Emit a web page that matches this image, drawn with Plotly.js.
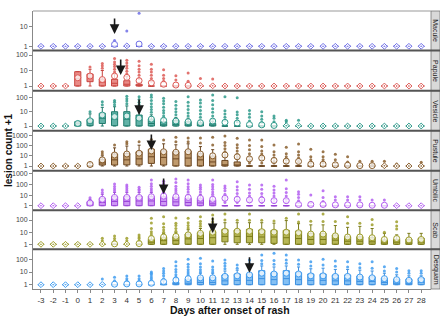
<!DOCTYPE html>
<html><head><meta charset="utf-8">
<script src="https://cdn.plot.ly/plotly-3.0.1.min.js"></script>
<style>html,body{margin:0;padding:0;background:#fff}#chart{width:440px;height:316px}</style>
</head><body><div id="chart"></div>
<script>
// ---------------- DATA (lesion count + 1) ----------------
const days = [-3,-2,-1,0,1,2,3,4,5,6,7,8,9,10,11,12,13,14,15,16,17,18,19,20,21,22,23,24,25,26,27,28];
const facetNames = ['Macule','Papule','Vesicle','Pustule','Umbilic','Scab','Desquam'];
const ONES = [1,1,1,1,1,1,1,1, 1,1,1,1,1,1,1,1, 1,1,1,1,1,1,1,1, 1,1,1,1,1,1,1,1];

// Macule
const maculeMean = [1,1,1,1,1,1,1.25,1.05, 1.3,1,1,1,1,1,1,1, 1,1,1,1,1,1,1,1, 1,1,1,1,1,1,1,1];
const maculeOutliers = [[3,[2]],[4,[6]],[5,[48]]];

// Papule
const papuleQ1  = [1,1,1,1,1.9,1,1,1, 1,1,1,1,1,1,1,1, 1,1,1,1,1,1,1,1, 1,1,1,1,1,1,1,1];
const papuleMed = [1,1,1,3,3.5,1.8,1.5,1.3, 1,1,1,1,1,1,1,1, 1,1,1,1,1,1,1,1, 1,1,1,1,1,1,1,1];
const papuleQ3  = [1,1,1,8.4,5.9,2.8,2.7,2.2, 1.3,1,1,1,1,1,1,1, 1,1,1,1,1,1,1,1, 1,1,1,1,1,1,1,1];
const papuleHi  = [1,1,1,8.4,12,10,6,4, 1.7,1,1,1,1,1,1,1, 1,1,1,1,1,1,1,1, 1,1,1,1,1,1,1,1];
const papuleMean= [1,1,1,3.4,4.4,2.6,4.4,3.6, 2.2,1.6,1.3,1.15,1.1,1.05,1.03,1, 1,1,1,1,1,1,1,1, 1,1,1,1,1,1,1,1];
const papuleOutliers = [[1,[17]],[2,[14,20,28]],[3,[8,12,18,25,35,60]],[4,[6,9,14,20,30,45]],
  [5,[3,5,8,12,20,40]],[6,[2,3,5,8,12,25]],[7,[2,3,5,11]],[8,[2.4,4.6]],[9,[2,7]],[10,[3.1]],[11,[2.8]]];

// Vesicle
const vesicleQ1  = [1,1,1,1,1.05,1.5,1.05,1, 1,1,1,1,1,1,1,1, 1,1,1,1,1,1,1,1, 1,1,1,1,1,1,1,1];
const vesicleMed = [1,1,1,1.5,1.8,3.5,3,3, 2.5,1.5,1.2,1.3,1.2,1,1,1, 1,1,1,1,1,1,1,1, 1,1,1,1,1,1,1,1];
const vesicleQ3  = [1,1,1,2,2.9,7.7,9.9,10, 5.8,3,2,2.5,2,1.7,1.5,1, 1,1,1,1,1,1,1,1, 1,1,1,1,1,1,1,1];
const vesicleHi  = [1,1,1,2,7,20,22,25, 14,6,3.5,4,3.5,2.5,2,1, 1,1,1,1,1,1,1,1, 1,1,1,1,1,1,1,1];
const vesicleMean= [1,1,1,1.5,2.3,5.8,4.5,5, 3.5,3,2.5,2.2,2,1.7,2.2,1.8, 1.6,1.25,1.2,1.1,1.05,1.05,1,1, 1,1,1,1,1,1,1,1];
const vesicleOutliers = [[1,[10]],[2,[30,49]],[3,[30,45,60]],[4,[35,55,80,120]],[5,[20,30,45,70,110]],
  [6,[9,14,22,35,60,100,145]],[7,[5,8,12,20,35,55,85]],[8,[6,10,16,28,50]],[9,[5,8,14,25,45,110]],
  [10,[4,7,12,22,40,65]],[11,[3,5,9,16,30,60,145]],[12,[2.5,4,7,11.6,110]],[13,[2,3.5,6,9.4,94]],
  [14,[2.2,4,7,12]],[15,[1.8,3,5,10]],[16,[2,3.5,5]],[17,[2,2.5]],[18,[2.5]]];

// Pustule
const pustuleQ1  = [1,1,1,1,1,1.25,1.25,1.3, 1.3,1.8,1.25,1,1,1,1,1, 1,1,1,1,1,1,1,1, 1,1,1,1,1,1,1,1];
const pustuleMed = [1,1,1,1,1,2,4,4, 5,8,7,5,6,4,2.5,1.3, 1.2,1,1,1,1,1,1,1, 1,1,1,1,1,1,1,1];
const pustuleQ3  = [1,1,1,1,1,4.5,15,17, 25,43,30,25,30,16,9.5,3.5, 2.5,1,1,1,1,1,1,1, 1,1,1,1,1,1,1,1];
const pustuleHi  = [1,1,1,1,1,10,60,90, 110,200,150,120,150,80,40,8, 5,1,1,1,1,1,1,1, 1,1,1,1,1,1,1,1];
const pustuleMean= [1,1,1,1,1.4,4,12,15, 18,30,25,22,25,15,10,12, 8,5,6,3.5,3,2.8,1.5,1.5, 1.3,1.2,1.1,1.1,1.05,1,1,1];
const pustuleOutliers = [[1,[2]],[2,[15,25]],[3,[115]],[4,[150,240]],[5,[240]],[6,[400]],[7,[350]],
  [8,[240,650]],[9,[240,550]],[10,[180,550]],[11,[115,650]],[12,[12,25,50,100,200,870]],
  [13,[8,15,30,60,120,520]],[14,[2,4,8,16,40,100,350]],[15,[2,4,8,15,30,80,350]],[16,[2,3,6,12,25,115]],
  [17,[2,4,8,16,68]],[18,[2,3,6,12,25,143]],[19,[2,4,8,43]],[20,[2,4,8,25]],[21,[2,4,14]],[22,[2.5,8]],
  [23,[3]],[24,[1.5,3]],[25,[3]],[26,[1.6]],[27,[1.3]],[28,[2.3]]];

// Umbilic
const umbilicMed = [1,1,1,1,1.3,2,2.5,2.5, 2.8,2.8,2.5,2.3,2,1.8,1.5,1, 1,1,1,1,1,1,1,1, 1,1,1,1,1,1,1,1];
const umbilicQ3  = [1,1,1,1,2.4,5,7,7, 7.5,7.5,7,6.5,5,5,3.4,1, 1,1,1,1,1,1,1,1, 1,1,1,1,1,1,1,1];
const umbilicHi  = [1,1,1,1,4,12,18,18, 18,18,18,16,12,12,8,1, 1,1,1,1,1,1,1,1, 1,1,1,1,1,1,1,1];
const umbilicMean= [1,1,1,1,1.8,4,6,6, 6,7,8,7,6,5,4,5, 4,3.5,3.5,3,3,1.3,1.3,1.3, 1.2,1.2,1.2,1.1,1.1,1,1,1];
const umbilicOutliers = [[1,[5.7]],[2,[18,30]],[3,[25,40,65,110]],[4,[25,40,60,90]],[5,[25,35,55]],
  [6,[25,40,70,120,270]],[7,[25,40,70,120,200]],[8,[25,40,70,150,330]],[9,[20,35,60,120,270]],
  [10,[20,35,55,90]],[11,[12,20,35,60,100,270]],[12,[2,3.4,6,12,25,45,72]],[13,[2,3.5,7,14,30,60,185]],
  [14,[2.4,4,8,16,35,90]],[15,[2,3.5,7,14,35,90]],[16,[2,4,8,16,30,70]],[17,[2,4,8,18,40,270]],
  [18,[2,3,6,12,21]],[19,[2,10]],[20,[2.5,6,26]],[21,[3.4,7]],[22,[3.4,7]],[23,[3.4,7]],[24,[3.4]],[25,[3.4]]];

// Scab
const scabQ1  = [1,1,1,1,1,1,1,1, 1,1,1,1,1,1,1,1.6, 1.35,1.35,1.35,1.2,1,1,1,1, 1,1,1,1,1,1,1,1];
const scabMed = [1,1,1,1,1,1,1,1, 1,1.5,2,2,2.8,3,3.5,4.5, 4.5,4.5,4,4,3.5,3,2.5,2.5, 2.2,1.8,1.8,1.6,1.3,1.5,1.3,1.5];
const scabQ3  = [1,1,1,1,1,1,1,1, 1,2.6,3.8,4.2,7,9,11,17, 15,17,15,14,14,12,8,8, 5.8,4.2,4.2,3.8,2.3,2.6,2.6,3.1];
const scabHi  = [1,1,1,1,1,1,1,1, 1,5,8,9,16,20,25,60, 60,60,60,55,90,50,40,40, 35,25,30,20,8,6,8,8];
const scabMean= [1,1,1,1,1,1.05,1.1,1.05, 1.15,3,4,4.5,6,8,10,12, 12,12,11,10,10,9,7,7, 5,4,4,3.5,2.5,3,2.3,2.5];
const scabOutliers = [[2,[2,3.1]],[3,[2,3,4.8]],[4,[2,3.1]],[5,[2,3,4,5.8]],[6,[7,11,20,56,140]],
  [7,[10,15,25,50,190]],[8,[12,20,35,55,150]],[9,[22,35,60,140]],[10,[30,50,80,190]],[11,[40,70,120,260]],
  [12,[100,310]],[13,[95]],[14,[95,310]],[15,[95]],[16,[85]],[17,[140]],[18,[70,310]],[19,[80]],
  [20,[75,310]],[21,[75]],[22,[55,190]],[23,[55]],[24,[40,110]],[25,[10]],[26,[18,32,72]]];

// Desquam
const desquamMed = [1,1,1,1,1,1,1,1, 1,1,1,1,1.3,1.5,1.5,2, 2.2,2.2,3,2.5,3,2.5,2.2,2.2, 2,2,1.8,1.8,1.5,1.3,1.3,1.5];
const desquamQ3  = [1,1,1,1,1,1,1,1, 1,1,1.2,1.5,2.7,3.8,3.8,5.8, 7,7,12.7,8.8,12.7,8.8,7,7, 5.8,5.8,4.8,4.2,3.2,2.7,2.7,3.2];
const desquamHi  = [1,1,1,1,1,1,1,1, 1,1,2,3,5,8,8,12, 14,16,30,25,30,25,18,20, 16,16,14,12,8,6,5,5];
const desquamMean= [1,1,1,1,1,1.05,1.1,1.15, 1.15,1.3,1.7,2.3,3,3.5,3.5,4.5, 5,6,8,7,8,7,5,5, 4.5,4.5,4,3.5,3,2.5,2.2,2.5];
const desquamOutliers = [[2,[2.8]],[3,[2,3.8]],[4,[2,3,4.8]],[5,[2,3,4.8]],[6,[2,3,4,6,8,10]],[7,[3,5,8,12,19]],
  [8,[4,6,10,16,30,65]],[9,[7,10,15,25,40,100]],[10,[10,15,25,45,120]],[11,[10,15,25,73]],[12,[18,30,50,88]],
  [13,[20,35]],[14,[25,45,90]],[15,[45,80,215]],[16,[40,80,300]],[17,[50,90,215]],[18,[40,88]],[19,[30,65]],
  [20,[35,100]],[21,[28,75]],[22,[25,65]],[23,[22,45]],[24,[20,65]],[25,[12,26]],[26,[10,19]],[27,[8,12.7]],[28,[8,12.7]]];

// Peak-day arrows (day, lesion count + 1 at arrow tip)
const arrowDays = [3, 3.5, 5, 6, 7, 11, 14];
const arrowTips = [4.3, 5.1, 5.9, 37, 12.6, 8.5, 8.7];

// y tick values per facet
const tickSets = [[1,10],[1,10,100],[1,10,100],[1,10,100,1000],[1,10,100,1000],[1,10,100],[1,10,100]];

// ---------------- build ----------------
const facets = [
  {q1:ONES, med:ONES, q3:ONES, hi:ONES, mean:maculeMean, out:maculeOutliers},
  {q1:papuleQ1, med:papuleMed, q3:papuleQ3, hi:papuleHi, mean:papuleMean, out:papuleOutliers},
  {q1:vesicleQ1, med:vesicleMed, q3:vesicleQ3, hi:vesicleHi, mean:vesicleMean, out:vesicleOutliers},
  {q1:pustuleQ1, med:pustuleMed, q3:pustuleQ3, hi:pustuleHi, mean:pustuleMean, out:pustuleOutliers},
  {q1:ONES, med:umbilicMed, q3:umbilicQ3, hi:umbilicHi, mean:umbilicMean, out:umbilicOutliers},
  {q1:scabQ1, med:scabMed, q3:scabQ3, hi:scabHi, mean:scabMean, out:scabOutliers},
  {q1:ONES, med:desquamMed, q3:desquamQ3, hi:desquamHi, mean:desquamMean, out:desquamOutliers}
];
const styles = [
  {c:'#6f6fe6', fill:'rgba(111,111,230,0.55)', line:'#5a5ad8'},
  {c:'#dd5a56', fill:'rgba(226,100,95,0.75)', line:'#c8443f'},
  {c:'#2e9a8b', fill:'rgba(46,154,139,0.75)', line:'#1f7a6c'},
  {c:'#8a5f2e', fill:'rgba(180,136,84,0.85)', line:'#6b4620'},
  {c:'#b35ff0', fill:'rgba(179,95,240,0.65)', line:'#9a45d8'},
  {c:'#9e9e2a', fill:'rgba(170,170,55,0.85)', line:'#7a7a18'},
  {c:'#3f9cf0', fill:'rgba(80,165,240,0.7)', line:'#3a8fe0'}
];
const edgesPx = [11, 50.5, 90.7, 130.7, 170.7, 210.3, 249.3, 289];
const yRanges = [[-0.214,1.80],[-0.303,2.29],[-0.327,2.46],[-0.46,3.46],[-0.434,3.30],[-0.41,2.80],[-0.34,2.79]];
const PT = 11, PB = 289, PH = PB - PT;
const frac = px => (PB - px) / PH;

const traces = [];
const layout = {
  width:440, height:316, margin:{l:33, r:9, t:11, b:27},
  paper_bgcolor:'#fff', plot_bgcolor:'#fff', showlegend:false, boxmode:'overlay',
  font:{family:'Liberation Sans, Arial, sans-serif', color:'#333'},
  xaxis:{anchor:'y7', range:[-3.65, 28.8], tickvals:days, ticktext:days.map(String), ticks:'outside', ticklen:3,
    tickcolor:'#888', tickfont:{size:8, color:'#333'}, showline:true, linecolor:'#888', linewidth:1,
    showgrid:false, zeroline:false},
  shapes:[], annotations:[]
};

facets.forEach((f, i) => {
  const ya = i === 0 ? 'y' : 'y' + (i + 1);
  const key = i === 0 ? 'yaxis' : 'yaxis' + (i + 1);
  const s = styles[i];
  layout[key] = {
    domain:[frac(edgesPx[i+1]), frac(edgesPx[i])], type:'log', range:yRanges[i], anchor:'x',
    tickvals:tickSets[i], ticktext:tickSets[i].map(String), ticks:'outside', ticklen:3, tickcolor:'#888',
    tickfont:{size:7, color:'#444'}, showline:true, linecolor:'#888', linewidth:1, showgrid:false, zeroline:false
  };
  traces.push({type:'box', x:days, q1:f.q1, median:f.med, q3:f.q3, lowerfence:ONES, upperfence:f.hi,
    xaxis:'x', yaxis:ya, boxpoints:false, width:0.5, whiskerwidth:0.5,
    line:{color:s.line, width:1}, fillcolor:s.fill, hoverinfo:'skip', showlegend:false});
  const ox = [], oy = [];
  f.out.forEach(([d, vals]) => vals.forEach(v => { ox.push(d); oy.push(v); }));
  traces.push({type:'scatter', mode:'markers', x:ox, y:oy, xaxis:'x', yaxis:ya,
    marker:{size:3, color:s.c, opacity:0.85}, hoverinfo:'skip'});
  const lx = [], ly = [], hx = [], hy = [];
  f.mean.forEach((m, k) => { if (m < 1.1) { lx.push(days[k]); ly.push(m); } else { hx.push(days[k]); hy.push(m); } });
  traces.push({type:'scatter', mode:'markers', x:lx, y:ly, xaxis:'x', yaxis:ya,
    marker:{symbol:'diamond-dot', size:4.5, color:'#fff', line:{width:1, color:s.c}}, hoverinfo:'skip'});
  traces.push({type:'scatter', mode:'markers', x:hx, y:hy, xaxis:'x', yaxis:ya,
    marker:{symbol:'circle', size:6, color:'rgba(255,255,255,0.75)', line:{width:1, color:s.c}}, hoverinfo:'skip'});

  // strip label
  const sx0 = 1, sx1 = 1 + 9/398;
  layout.shapes.push({type:'rect', xref:'paper', yref:'paper', x0:sx0, x1:sx1,
    y0:frac(edgesPx[i+1]), y1:frac(edgesPx[i]), fillcolor:'#d9d9d9', line:{color:'#777', width:0.8}});
  layout.annotations.push({xref:'paper', yref:'paper', x:(sx0+sx1)/2, y:(frac(edgesPx[i+1])+frac(edgesPx[i]))/2,
    text:facetNames[i], textangle:90, showarrow:false, font:{size:7, color:'#222'}, xanchor:'center', yanchor:'middle'});

  // arrow
  layout.annotations.push({x:arrowDays[i], y:Math.log10(arrowTips[i]), xref:'x', yref:ya, ax:0, ay:-17,
    showarrow:true, arrowhead:2, arrowsize:1.2, arrowwidth:1.6, arrowcolor:'#1a1a1a', text:'', standoff:0});
});

// panel separators
for (let i = 1; i < edgesPx.length - 1; i++) {
  layout.shapes.push({type:'line', xref:'paper', yref:'paper', x0:0, x1:1 + 9/398, y0:frac(edgesPx[i]), y1:frac(edgesPx[i]),
    line:{color:'#555', width:2}});
}
layout.shapes.push({type:'line', xref:'paper', yref:'paper', x0:0, x1:1, y0:1, y1:1, line:{color:'#999', width:1}});

// axis titles
layout.annotations.push({xref:'paper', yref:'paper', x:0.495, y:frac(310), text:'<b>Days after onset of rash</b>',
  showarrow:false, font:{size:10.5, color:'#111'}, xanchor:'center', yanchor:'middle'});
layout.annotations.push({xref:'paper', yref:'paper', x:-25/398, y:frac(150), text:'<b>lesion count +1</b>',
  textangle:-90, showarrow:false, font:{size:10, color:'#111'}, xanchor:'center', yanchor:'middle'});

Plotly.newPlot('chart', traces, layout, {staticPlot:true, displayModeBar:false});
</script></body></html>
